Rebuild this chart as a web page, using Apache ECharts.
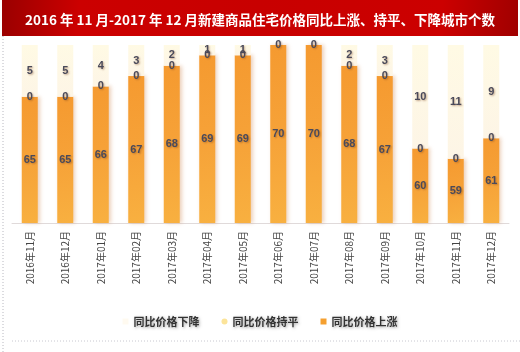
<!DOCTYPE html>
<html>
<head>
<meta charset="utf-8">
<script src="https://cdn.jsdelivr.net/npm/echarts@6/dist/echarts.min.js"></script>
<style>
html,body{margin:0;padding:0;background:#fff;}
#main{width:520px;height:352px;}
</style>
</head>
<body>
<div id="main"></div>
<script>
// 月份
var months = ['2016年11月','2016年12月','2017年01月','2017年02月','2017年03月','2017年04月','2017年05月',
	'2017年06月','2017年07月','2017年08月','2017年09月','2017年10月','2017年11月','2017年12月'];
// 城市个数
var upCities = [65, 65, 66, 67, 68, 69, 69, 70, 70, 68, 67, 60, 59, 61];
var flatCities = [0, 0, 0, 0, 0, 0, 0, 0, 0, 0, 0, 0, 0, 0];
var downCities = [5, 5, 4, 3, 2, 1, 1, 0, 0, 2, 3, 10, 11, 9];

var chart = echarts.init(document.getElementById('main'));

var labelStyle = {
	show: true,
	color: '#4a4a5a',
	fontSize: 11,
	fontWeight: 'bold',
	fontFamily: 'Liberation Sans, Arial',
	textShadowColor: 'rgba(120,60,20,0.45)',
	textShadowBlur: 2,
	textShadowOffsetX: 1,
	textShadowOffsetY: 1
};

chart.setOption({
	animation: false,
	title: {
		text: '2016 年 11 月-2017 年 12 月新建商品住宅价格同比上涨、持平、下降城市个数',
		left: 'center',
		top: 8,
		textStyle: {
			color: '#fff',
			fontSize: 13.5,
			fontWeight: 'bold',
			fontFamily: 'Noto Sans CJK SC'
		}
	},
	graphic: [
		{
			type: 'rect', z: -1,
			shape: {x: 2, y: 0, width: 516, height: 36},
			style: {
				fill: new echarts.graphic.LinearGradient(0, 0, 1, 1, [
					{offset: 0, color: '#9a0000'},
					{offset: 0.15, color: '#cc0000'},
					{offset: 0.5, color: '#c80000'},
					{offset: 0.85, color: '#cc0000'},
					{offset: 1, color: '#a00000'}
				])
			}
		},
		{
			type: 'line',
			shape: {x1: 3, y1: 36, x2: 3, y2: 352},
			style: {stroke: '#b8b8c0', lineWidth: 1, lineDash: [1, 2]}
		},
		{
			type: 'line',
			shape: {x1: 12, y1: 341, x2: 520, y2: 341},
			style: {stroke: '#c8c8d0', lineWidth: 1, lineDash: [1, 2]}
		}
	],
	legend: {
		bottom: 20,
		left: 'center',
		itemWidth: 6,
		itemHeight: 6,
		itemGap: 22,
		textStyle: {
			color: '#333',
			fontSize: 11,
			fontWeight: 'bold',
			fontFamily: 'Noto Sans CJK SC',
			textShadowColor: 'rgba(0,0,0,0.35)',
			textShadowBlur: 3,
			textShadowOffsetX: 1,
			textShadowOffsetY: 1
		},
		data: [
			{name: '同比价格下降', icon: 'rect', itemStyle: {color: '#fffaf0'}},
			{name: '同比价格持平', icon: 'circle', itemStyle: {color: '#fce49a'}},
			{name: '同比价格上涨', icon: 'rect', itemStyle: {color: '#f5a030'}}
		]
	},
	grid: {left: 12, right: 11, top: 45, bottom: 129},
	xAxis: {
		type: 'category',
		data: months,
		axisLine: {lineStyle: {color: '#e0dada'}},
		axisTick: {show: false},
		axisLabel: {
			rotate: 90,
			interval: 0,
			margin: 8,
			fontSize: 10,
			color: '#444',
			fontFamily: 'Noto Sans CJK SC'
		}
	},
	yAxis: {
		type: 'value',
		min: 52.8,
		max: 70,
		show: false
	},
	series: [
		{
			name: '同比价格上涨',
			type: 'bar',
			stack: 'all',
			barWidth: 16,
			data: upCities,
			itemStyle: {
				color: new echarts.graphic.LinearGradient(0, 0, 1, 1, [
					{offset: 0, color: '#f59a30'},
					{offset: 0.5, color: '#f6a238'},
					{offset: 1, color: '#f8b040'}
				]),
				shadowColor: 'rgba(200,120,60,0.35)',
				shadowBlur: 4,
				shadowOffsetX: 2
			},
			label: Object.assign({position: 'inside'}, labelStyle)
		},
		{
			name: '同比价格持平',
			type: 'bar',
			stack: 'all',
			barWidth: 16,
			data: flatCities,
			itemStyle: {color: '#fce49a'},
			label: Object.assign({position: 'inside'}, labelStyle)
		},
		{
			name: '同比价格下降',
			type: 'bar',
			stack: 'all',
			barWidth: 16,
			data: downCities,
			itemStyle: {
				color: new echarts.graphic.LinearGradient(0, 0, 0, 1, [
					{offset: 0, color: '#fffae4'},
					{offset: 1, color: '#fdf5e6'}
				])
			},
			label: Object.assign({position: 'inside'}, labelStyle, {
				formatter: function (p) { return p.value > 0 ? p.value : ''; }
			})
		}
	]
});
</script>
</body>
</html>
